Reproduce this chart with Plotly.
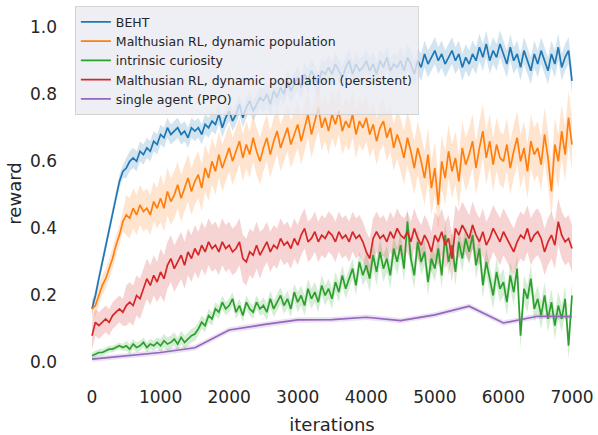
import plotly.graph_objects as go

# ---------------- data ----------------
iters = list(range(0, 7001, 50))

beht = [
    0.16, 0.20, 0.25, 0.30, 0.35, 0.40, 0.45, 0.50, 0.54, 0.57,
    0.58, 0.60, 0.61, 0.60, 0.63, 0.62, 0.64, 0.63, 0.66, 0.65,
    0.68, 0.67, 0.70, 0.68, 0.69, 0.70, 0.68, 0.69, 0.67, 0.70,
    0.69, 0.70, 0.68, 0.71, 0.70, 0.72, 0.71, 0.74, 0.70, 0.73,
    0.75, 0.72, 0.74, 0.77, 0.73, 0.76, 0.78, 0.75, 0.77, 0.79,
    0.78, 0.80, 0.77, 0.81, 0.79, 0.82, 0.80, 0.84, 0.81, 0.83,
    0.85, 0.82, 0.86, 0.84, 0.87, 0.85, 0.83, 0.87, 0.86, 0.88,
    0.86, 0.89, 0.87, 0.85, 0.88, 0.90, 0.86, 0.89, 0.87, 0.88,
    0.90, 0.87, 0.89, 0.86, 0.90, 0.88, 0.91, 0.87, 0.89, 0.88,
    0.90, 0.87, 0.91, 0.89, 0.86, 0.90, 0.88, 0.92, 0.89, 0.91,
    0.93, 0.90, 0.92, 0.89, 0.91, 0.93, 0.90, 0.92, 0.88, 0.91,
    0.89, 0.92, 0.90, 0.94, 0.91, 0.95, 0.90, 0.93, 0.91, 0.95,
    0.92, 0.89, 0.94, 0.90, 0.92, 0.88, 0.93, 0.90, 0.87, 0.92,
    0.89, 0.93, 0.90, 0.87, 0.92, 0.89, 0.94, 0.88, 0.91, 0.93,
    0.84,
]

malthus = [
    0.16, 0.17, 0.20, 0.23, 0.25, 0.28, 0.31, 0.35, 0.38, 0.42,
    0.44, 0.43, 0.46, 0.44, 0.47, 0.45, 0.46, 0.44, 0.48, 0.46,
    0.49, 0.46, 0.51, 0.48, 0.50, 0.53, 0.49, 0.52, 0.55, 0.51,
    0.54, 0.56, 0.52, 0.58, 0.55, 0.60, 0.57, 0.62, 0.58, 0.61,
    0.64, 0.60, 0.63, 0.66, 0.61, 0.65, 0.62, 0.67, 0.63, 0.60,
    0.64, 0.67, 0.62, 0.66, 0.69, 0.64, 0.67, 0.70, 0.65, 0.68,
    0.71, 0.66, 0.70, 0.74, 0.68, 0.72, 0.76, 0.70, 0.73, 0.69,
    0.74, 0.71, 0.75, 0.69, 0.72, 0.70, 0.74, 0.68, 0.72, 0.70,
    0.73, 0.68, 0.71, 0.66, 0.70, 0.72, 0.67, 0.70, 0.64, 0.68,
    0.65, 0.61, 0.67, 0.63, 0.58, 0.64, 0.60, 0.55, 0.62, 0.52,
    0.58, 0.47, 0.60, 0.55, 0.63, 0.57, 0.61, 0.54, 0.64, 0.59,
    0.62, 0.66, 0.58, 0.64, 0.69, 0.61, 0.66, 0.59, 0.65, 0.61,
    0.60, 0.65, 0.58, 0.63, 0.67, 0.60, 0.64, 0.57, 0.66, 0.62,
    0.64, 0.59, 0.68, 0.61, 0.51, 0.65, 0.60, 0.69, 0.62, 0.73,
    0.65,
]

curiosity = [
    0.020, 0.025, 0.030, 0.030, 0.035, 0.040, 0.040, 0.045, 0.050, 0.045,
    0.050, 0.040, 0.055, 0.045, 0.050, 0.060, 0.045, 0.055, 0.050, 0.060,
    0.050, 0.065, 0.055, 0.060, 0.070, 0.055, 0.075, 0.060, 0.070, 0.080,
    0.085, 0.10, 0.12, 0.11, 0.14, 0.13, 0.16, 0.15, 0.18, 0.16,
    0.17, 0.19, 0.15, 0.17, 0.14, 0.18, 0.16, 0.15, 0.18, 0.16,
    0.17, 0.15, 0.19, 0.16, 0.18, 0.20, 0.17, 0.19, 0.16, 0.21,
    0.18, 0.20, 0.17, 0.22, 0.19, 0.21, 0.18, 0.23, 0.20, 0.22,
    0.19, 0.24, 0.21, 0.26, 0.22, 0.25, 0.28, 0.23, 0.30, 0.26,
    0.29, 0.25, 0.32, 0.27, 0.33, 0.28, 0.31, 0.26, 0.34, 0.30,
    0.35, 0.28, 0.42, 0.31, 0.26, 0.36, 0.30, 0.33, 0.24, 0.31,
    0.28, 0.34, 0.26, 0.38, 0.30, 0.35, 0.27, 0.36, 0.31, 0.37,
    0.33, 0.38, 0.29, 0.34, 0.23, 0.30, 0.25, 0.20, 0.27, 0.22,
    0.24, 0.18, 0.26, 0.21, 0.28, 0.08, 0.22, 0.19, 0.25, 0.16,
    0.19, 0.14, 0.20, 0.13, 0.18, 0.11, 0.17, 0.13, 0.19, 0.05,
    0.20,
]

persistent = [
    0.08, 0.12, 0.11, 0.12, 0.13, 0.12, 0.14, 0.15, 0.16, 0.15,
    0.17, 0.18, 0.17, 0.20, 0.19, 0.22, 0.25, 0.23, 0.26, 0.24,
    0.27, 0.25, 0.29, 0.31, 0.28, 0.30, 0.32, 0.29, 0.33, 0.31,
    0.34, 0.32, 0.35, 0.33, 0.36, 0.34, 0.35, 0.33, 0.36, 0.34,
    0.35, 0.33, 0.34, 0.36, 0.31, 0.30, 0.33, 0.32, 0.35, 0.32,
    0.34, 0.36, 0.33, 0.35, 0.34, 0.37, 0.35, 0.36, 0.34, 0.37,
    0.35, 0.38, 0.40, 0.36, 0.37, 0.39, 0.36, 0.38, 0.37, 0.39,
    0.38, 0.36, 0.39, 0.37, 0.38, 0.36, 0.39, 0.37, 0.38, 0.36,
    0.33, 0.31, 0.37, 0.39, 0.37, 0.38, 0.36, 0.39, 0.37, 0.40,
    0.38, 0.37, 0.39, 0.36, 0.40, 0.37, 0.35, 0.38, 0.36, 0.33,
    0.38, 0.36, 0.39, 0.35, 0.37, 0.31, 0.40, 0.38, 0.41, 0.39,
    0.37, 0.41, 0.38, 0.36, 0.39, 0.35, 0.37, 0.40, 0.38, 0.36,
    0.39, 0.37, 0.35, 0.33, 0.36, 0.38, 0.37, 0.40, 0.36, 0.38,
    0.39, 0.37, 0.33, 0.36, 0.38, 0.35, 0.42, 0.38, 0.36, 0.37,
    0.34,
]

ppo_iters = [0, 500, 1000, 1500, 2000, 2500, 3000, 3500, 4000, 4500, 5000, 5500, 6000, 6500, 7000]
ppo = [0.010, 0.020, 0.030, 0.044, 0.097, 0.113, 0.127, 0.128, 0.135, 0.125, 0.142, 0.168, 0.118, 0.138, 0.137]

# half-width of the shaded band, one value per 500-iteration block
beht_hw = [0.02, 0.03, 0.03, 0.03, 0.03, 0.035, 0.035, 0.035, 0.035, 0.04, 0.04, 0.04, 0.04, 0.04, 0.04]
malthus_hw = [0.03, 0.06, 0.07, 0.07, 0.07, 0.07, 0.07, 0.07, 0.07, 0.08, 0.08, 0.08, 0.08, 0.08, 0.08]
curiosity_hw = [0.01, 0.015, 0.02, 0.02, 0.02, 0.025, 0.03, 0.03, 0.04, 0.04, 0.04, 0.04, 0.04, 0.04, 0.04]
persistent_hw = [0.04, 0.06, 0.07, 0.07, 0.07, 0.06, 0.06, 0.06, 0.06, 0.06, 0.07, 0.07, 0.07, 0.07, 0.07]
ppo_hw = [0.008] * len(ppo)

series = [
    ("BEHT", iters, beht, beht_hw, 10, "31,119,180"),
    ("Malthusian RL, dynamic population", iters, malthus, malthus_hw, 10, "255,127,14"),
    ("intrinsic curiosity", iters, curiosity, curiosity_hw, 10, "44,160,44"),
    ("Malthusian RL, dynamic population (persistent)", iters, persistent, persistent_hw, 10, "214,39,40"),
    ("single agent (PPO)", ppo_iters, ppo, ppo_hw, 1, "148,103,189"),
]

fig = go.Figure()
for name, xs, ys, hw, step, rgb in series:
    upper = [v + hw[i // step] for i, v in enumerate(ys)]
    lower = [v - hw[i // step] for i, v in enumerate(ys)]
    fig.add_trace(go.Scatter(
        x=list(xs) + list(xs)[::-1], y=upper + lower[::-1],
        fill="toself", fillcolor=f"rgba({rgb},0.2)",
        line=dict(width=0), mode="lines", showlegend=False, hoverinfo="skip"))
for name, xs, ys, hw, step, rgb in series:
    fig.add_trace(go.Scatter(
        x=xs, y=ys, mode="lines", name=name,
        line=dict(color=f"rgb({rgb})", width=1.7)))

font_family = "DejaVu Sans"
fig.update_layout(
    width=598, height=435,
    margin=dict(l=68, r=2, t=4, b=52),
    paper_bgcolor="white", plot_bgcolor="white",
    font=dict(family=font_family, color="#262626"),
    showlegend=True,
    legend=dict(
        x=0.013, y=0.994, xanchor="left", yanchor="top",
        bgcolor="rgba(234,234,242,0.8)", bordercolor="rgba(204,204,204,0.8)", borderwidth=1,
        font=dict(size=12.5, color="#262626", family=font_family),
        tracegroupgap=0,
    ),
    xaxis=dict(
        range=[-350, 7350], tickvals=[0, 1000, 2000, 3000, 4000, 5000, 6000, 7000],
        showgrid=False, zeroline=False, showline=False, ticks="", automargin=False,
        tickfont=dict(size=17), ticklabelstandoff=2,
        title=dict(text="iterations", font=dict(size=18), standoff=14),
    ),
    yaxis=dict(
        range=[-0.061, 1.069], tickvals=[0.0, 0.2, 0.4, 0.6, 0.8, 1.0],
        ticktext=["0.0", "0.2", "0.4", "0.6", "0.8", "1.0"],
        showgrid=False, zeroline=False, showline=False, ticks="", automargin=False,
        tickfont=dict(size=17), ticklabelstandoff=10,
        title=dict(text="reward", font=dict(size=18), standoff=3),
    ),
)

fig.write_html(
    "out.html",
    config={"displayModeBar": False},
    post_script="document.body.style.margin='0px';document.body.style.overflow='hidden';",
)
